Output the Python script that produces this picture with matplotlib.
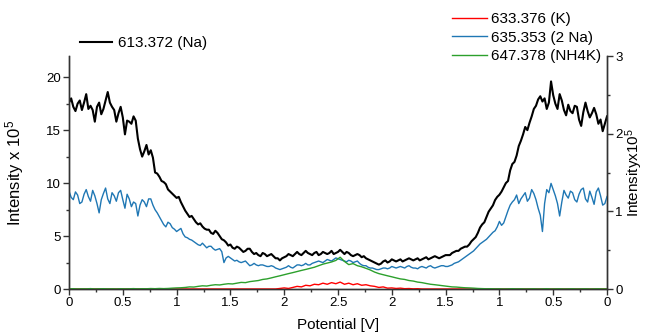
import matplotlib
matplotlib.use("Agg")
import matplotlib.pyplot as plt
import numpy as np

plt.rcParams['font.family'] = ['Liberation Sans', 'DejaVu Sans']
plt.rcParams['mathtext.default'] = 'regular'

# potential sweep 0 -> 2.5 -> 0 V at equal steps
tick_labels = ['0', '0.5', '1', '1.5', '2', '2.5', '2', '1.5', '1', '0.5', '0']

# 613.372 (Na), left axis (x 10^5); even samples and the samples between them
na_613 = [17.6, 17.2, 17.5, 16.9, 18.4, 17.3, 15.8, 17.6, 17.0, 18.6,
          17.2, 15.8, 17.2, 14.6, 15.8, 16.3, 14.2, 12.5, 13.6, 13.1,
          11.0, 10.6, 10.1, 9.4, 9.0, 8.6, 8.2, 7.4, 6.8, 6.6,
          6.1, 5.9, 5.6, 5.3, 5.5, 5.0, 4.6, 4.1, 3.9, 4.0,
          3.7, 3.6, 3.8, 3.3, 3.2, 3.4, 3.1, 3.3, 2.9, 2.7,
          3.0, 3.3, 3.1, 3.5, 3.2, 3.6, 3.3, 3.4, 3.2, 3.5,
          3.3, 3.6, 3.4, 3.7, 3.3, 3.4, 3.1, 3.3, 3.0, 2.9,
          2.7, 2.5, 2.3, 2.6, 2.5, 2.8, 2.6, 2.8, 2.7, 2.9,
          2.7, 2.9, 2.8, 3.0, 2.9, 3.1, 2.9, 3.1, 3.2, 3.4,
          3.6, 3.8, 4.0, 4.2, 4.7, 5.3, 6.1, 6.8, 7.6, 8.4,
          8.9, 9.6, 10.2, 11.8, 12.6, 14.0, 15.3, 15.7, 17.0, 17.9,
          17.7, 17.0, 19.6, 17.5, 18.4, 16.9, 17.4, 16.6, 17.2, 15.4,
          17.6, 16.2, 17.1, 15.6, 14.9, 16.3]
na_613_mid = [18.0, 16.8, 17.8, 17.6, 17.0, 16.9, 17.2, 16.5, 17.8, 17.6,
              16.9, 16.6, 16.2, 15.9, 15.6, 15.9, 13.2, 13.0, 12.7, 12.4,
              10.9, 10.2, 9.9, 9.2, 8.8, 8.7, 7.8, 7.1, 6.9, 6.3,
              6.2, 5.7, 5.6, 5.2, 5.3, 4.7, 4.4, 4.2, 3.8, 3.9,
              3.5, 3.8, 3.5, 3.4, 3.1, 3.3, 3.2, 3.1, 2.9, 2.9,
              3.1, 3.2, 3.3, 3.3, 3.4, 3.4, 3.2, 3.5, 3.3, 3.4,
              3.4, 3.3, 3.5, 3.5, 3.5, 3.2, 3.2, 3.2, 3.1, 2.8,
              2.6, 2.4, 2.4, 2.7, 2.6, 2.7, 2.7, 2.6, 2.8, 2.8,
              2.8, 2.7, 2.9, 2.8, 3.0, 3.0, 3.0, 3.2, 3.2, 3.5,
              3.6, 3.9, 4.0, 4.5, 4.9, 5.8, 6.3, 7.3, 7.9, 8.7,
              9.2, 10.0, 11.2, 12.0, 13.5, 14.6, 15.0, 16.3, 17.3, 18.2,
              18.0, 17.6, 18.3, 17.0, 17.8, 16.4, 16.8, 17.3, 16.0, 16.7,
              16.8, 16.6, 16.5, 16.0, 15.6]

# right axis (x 10^5)
k_633 = [0.0] * 49 + [
          0.007, 0.014, 0.007, 0.02, 0.034, 0.027, 0.048, 0.041, 0.061, 0.055,
          0.075, 0.061, 0.082, 0.068, 0.089, 0.061, 0.075, 0.055, 0.068, 0.048,
          0.055, 0.041, 0.034, 0.02, 0.027, 0.011, 0.014, 0.007, 0.011, 0.004,
          0.006, 0.002, 0.004] + [0.0] * 44

na2_635 = [1.26, 1.15, 1.21, 1.12, 1.28, 1.13, 1.20, 0.98, 1.23, 1.16,
           1.24, 1.13, 1.27, 1.04, 1.16, 1.12, 0.94, 1.15, 1.06, 1.16,
           1.02, 0.93, 0.83, 0.86, 0.79, 0.74, 0.78, 0.67, 0.64, 0.61,
           0.57, 0.59, 0.53, 0.55, 0.50, 0.52, 0.34, 0.42, 0.38, 0.37,
           0.34, 0.36, 0.30, 0.33, 0.30, 0.31, 0.29, 0.30, 0.27, 0.25,
           0.27, 0.30, 0.27, 0.31, 0.30, 0.33, 0.31, 0.34, 0.36, 0.34,
           0.38, 0.36, 0.40, 0.38, 0.36, 0.37, 0.34, 0.36, 0.31, 0.30,
           0.27, 0.26, 0.25, 0.27, 0.26, 0.29, 0.27, 0.29, 0.27, 0.30,
           0.27, 0.26, 0.29, 0.27, 0.30, 0.27, 0.29, 0.30, 0.29, 0.31,
           0.34, 0.37, 0.41, 0.45, 0.49, 0.55, 0.60, 0.64, 0.70, 0.75,
           0.87, 0.85, 1.01, 1.12, 1.21, 1.16, 1.24, 1.17, 1.23, 1.04,
           0.74, 1.28, 1.36, 1.20, 0.94, 1.27, 1.17, 1.24, 1.12, 1.28,
           1.16, 1.26, 1.09, 1.30, 1.08, 1.19]
na2_635_mid = [1.18, 1.25, 1.10, 1.22, 1.19, 1.27, 1.10, 1.15, 1.30, 1.10,
               1.20, 1.24, 1.15, 1.22, 1.06, 1.10, 1.08, 1.12, 1.16, 1.08,
               0.98, 0.88, 0.80, 0.84, 0.77, 0.76, 0.71, 0.66, 0.63, 0.59,
               0.56, 0.56, 0.55, 0.52, 0.51, 0.48, 0.40, 0.40, 0.36, 0.35,
               0.35, 0.33, 0.31, 0.31, 0.31, 0.30, 0.29, 0.29, 0.26, 0.26,
               0.28, 0.28, 0.29, 0.31, 0.31, 0.31, 0.33, 0.35, 0.35, 0.36,
               0.37, 0.38, 0.39, 0.37, 0.35, 0.36, 0.35, 0.33, 0.30, 0.28,
               0.27, 0.25, 0.26, 0.27, 0.27, 0.28, 0.28, 0.28, 0.29, 0.28,
               0.27, 0.28, 0.28, 0.29, 0.28, 0.28, 0.30, 0.29, 0.30, 0.33,
               0.35, 0.39, 0.43, 0.47, 0.52, 0.58, 0.62, 0.67, 0.73, 0.80,
               0.82, 0.93, 1.08, 1.15, 1.10, 1.20, 1.13, 1.28, 1.15, 0.95,
               1.10, 1.24, 1.28, 1.10, 1.12, 1.21, 1.26, 1.15, 1.22, 1.30,
               1.12, 1.18, 1.25, 1.20, 1.10]

nh4k_647 = [0.002, 0.004, 0.001, 0.003, 0.002, 0.005, 0.001, 0.003, 0.004, 0.002,
            0.003, 0.001, 0.004, 0.002, 0.003, 0.005, 0.002, 0.004, 0.003, 0.006,
            0.004, 0.007, 0.005, 0.007, 0.011, 0.014, 0.016, 0.02, 0.027, 0.025,
            0.034, 0.041, 0.038, 0.048, 0.055, 0.052, 0.061, 0.068, 0.065, 0.075,
            0.085, 0.082, 0.095, 0.102, 0.109, 0.123, 0.13, 0.143, 0.157, 0.17,
            0.184, 0.198, 0.211, 0.225, 0.239, 0.252, 0.266, 0.28, 0.30, 0.32,
            0.334, 0.348, 0.368, 0.409, 0.355, 0.314, 0.327, 0.30, 0.286, 0.266,
            0.245, 0.218, 0.198, 0.184, 0.17, 0.157, 0.143, 0.13, 0.123, 0.109,
            0.102, 0.089, 0.082, 0.071, 0.061, 0.055, 0.048, 0.041, 0.034, 0.027,
            0.025, 0.02, 0.016, 0.014, 0.011, 0.007, 0.005, 0.003, 0.004, 0.002,
            0.003, 0.001, 0.002, 0.004, 0.002, 0.003, 0.001, 0.002, 0.003, 0.001,
            0.002, 0.004, 0.001, 0.002, 0.003, 0.001, 0.002, 0.003, 0.001, 0.002,
            0.003, 0.001, 0.002, 0.003, 0.001, 0.002]

# put the in-between samples back in order
na_full = np.empty(len(na_613) + len(na_613_mid))
na_full[0::2] = na_613
na_full[1::2] = na_613_mid
na2_full = np.empty(len(na2_635) + len(na2_635_mid))
na2_full[0::2] = na2_635
na2_full[1::2] = na2_635_mid

sweep = np.linspace(0, 5, len(k_633))
sweep_fine = np.linspace(0, 5, len(na_full))

fig = plt.figure(figsize=(6.45, 3.35), dpi=100)
ax = fig.add_axes([69/645, 1-289/335, 538/645, 233/335])
ax2 = ax.twinx()

l0, = ax.plot(sweep_fine, na_full, color='black', lw=1.5, label='613.372 (Na)')
l1, = ax2.plot(sweep, k_633, color='red', lw=1.0, label='633.376 (K)')
l2, = ax2.plot(sweep_fine, na2_full, color='#1f77b4', lw=1.0, label='635.353 (2 Na)')
l3, = ax2.plot(sweep, nh4k_647, color='#2ca02c', lw=1.0, label='647.378 (NH4K)')

ax.set_xlim(0, 5)
ax.set_ylim(0, 22)
ax2.set_ylim(0, 3)
ax.set_xticks(np.arange(0, 5.01, 0.5))
ax.set_xticklabels(tick_labels)
ax.set_xticks(np.arange(0.25, 5, 0.5), minor=True)
ax.set_yticks([0, 5, 10, 15, 20])
ax.set_yticks([2.5, 7.5, 12.5, 17.5], minor=True)
ax2.set_yticks([0, 1, 2, 3])
ax2.set_yticks([0.5, 1.5, 2.5], minor=True)

for a in (ax, ax2):
    a.spines['top'].set_visible(False)
    for s in a.spines.values():
        s.set_linewidth(1.0)
        s.set_color('#333333')
    a.tick_params(which='major', direction='out', length=4, width=1.0,
                  labelsize=9.5, color='#333333', pad=2)
    a.tick_params(which='minor', direction='out', length=2.5, width=1.0,
                  color='#333333')

ax.set_xlabel('Potential [V]', fontsize=11, labelpad=6)
ax.set_ylabel('Intensity x 10$^5$', fontsize=12)
ax.yaxis.set_label_coords(-0.079, 0.5)
ax2.set_ylabel('Intensityx10$^5$', fontsize=11)
ax2.yaxis.set_label_coords(1.031, 0.5)

fig.legend(handles=[l0], loc='upper left', bbox_to_anchor=(80/645, 1-36/335),
           frameon=False, fontsize=11, handlelength=2.1, handletextpad=0.4,
           borderpad=0, borderaxespad=0)
fig.legend(handles=[l1, l2, l3], loc='upper left',
           bbox_to_anchor=(452/645, 1-12/335), frameon=False, fontsize=11,
           handlelength=2.3, handletextpad=0.25, labelspacing=0.3,
           borderpad=0, borderaxespad=0)

plt.savefig('out.png', dpi=100)
